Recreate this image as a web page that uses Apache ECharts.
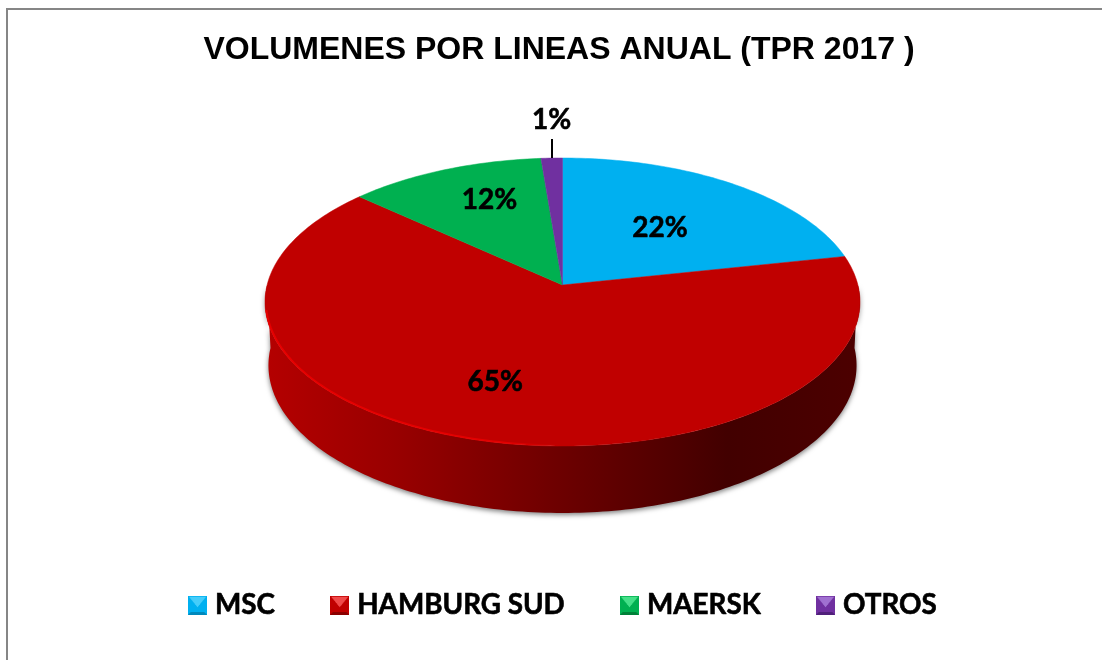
<!DOCTYPE html>
<html><head><meta charset="utf-8">
<style>html,body{margin:0;padding:0;background:#fff}#c{width:1102px;height:660px}</style>
<script src="https://cdn.jsdelivr.net/npm/echarts@6/dist/echarts.min.js"></script>
</head><body><div id="c"></div>
<script>
const titleText = 'VOLUMENES POR LINEAS ANUAL (TPR 2017 )';
const categories = ['MSC', 'HAMBURG SUD', 'MAERSK', 'OTROS'];
const values = [21.7, 65.0, 12.0, 1.3];
const colors = ['#00b0f0', '#c00000', '#00b050', '#7030a0'];
const lightColors = ['#45cdfa', '#f04a4a', '#45e088', '#a070d0'];
const darkColors = ['#0088bb', '#8a0000', '#008038', '#50207a'];

// geometry of the tilted disc (perspective projection of a circle)
const CX = 562.5, APEX_Y = 285, R = 295.4, S = 142, K = 0.118;
const BOTTOM_R = 292, BOTTOM_S = 145.5, BOTTOM_APEX_Y = 348;
const LABEL_F = 0.55;
const labelNudge = [[0, 1], [-22, 17], [-5, -19], [0, 0]];
const total = values.reduce((a, b) => a + b, 0);

function proj(deg, f, r, s, ay) {
  const t = deg * Math.PI / 180, u = f * Math.sin(t), v = -f * Math.cos(t), w = 1 - K * v;
  return [CX + r * u / w, ay + s * v / w];
}
function arc(a0, a1, f, r, s, ay) {
  const n = Math.max(2, Math.ceil(Math.abs(a1 - a0))), pts = [];
  for (let i = 0; i <= n; i++) pts.push(proj(a0 + (a1 - a0) * i / n, f, r, s, ay));
  return pts;
}
function startAngle(i) {
  return values.slice(0, i).reduce((a, b) => a + b, 0) / total * 360;
}
function renderSlice(i) {
  return function () {
    const a0 = startAngle(i), a1 = a0 + values[i] / total * 360, mid = (a0 + a1) / 2;
    const children = [];
    const c0 = Math.max(a0, 90), c1 = Math.min(a1, 270);
    if (c1 > c0) {
      const wall = arc(c0, c1, 1, R, S, APEX_Y).concat(arc(c1, c0, 1, BOTTOM_R, BOTTOM_S, BOTTOM_APEX_Y));
      children.push({
        type: 'polygon', shape: { points: wall },
        style: {
          fill: new echarts.graphic.LinearGradient(CX - 295, 0, CX + 295, 0, [
            { offset: 0, color: '#b40000' }, { offset: 0.22, color: '#980000' },
            { offset: 0.5, color: '#6c0000' }, { offset: 0.78, color: '#420000' },
            { offset: 1, color: '#4c0000' }], true),
          shadowBlur: 5, shadowColor: 'rgba(0,0,0,0.5)', shadowOffsetY: 2
        }
      });
    }
    children.push({
      type: 'polygon',
      shape: { points: [[CX, APEX_Y]].concat(arc(a0, a1, 1, R, S, APEX_Y)) },
      style: { fill: colors[i], stroke: colors[i], lineWidth: 0.5 }
    });
    const h0 = Math.max(a0, 180), h1 = Math.min(a1, 260);
    if (h1 > h0) {
      children.push({
        type: 'polyline', shape: { points: arc(h1, h0, 0.997, R, S, APEX_Y) },
        style: {
          fill: 'none', lineWidth: 2,
          stroke: new echarts.graphic.LinearGradient(CX - 295, 0, CX, 0, [
            { offset: 0, color: 'rgba(235,0,0,0.9)' }, { offset: 0.8, color: 'rgba(235,0,0,0.8)' },
            { offset: 1, color: 'rgba(235,0,0,0)' }], true)
        }
      });
    }
    const text = Math.round(values[i] / total * 100) + '%';
    const labelStyle = { text, font: 'bold 28px Lato', fill: '#000', stroke: '#000', lineWidth: 0.6, align: 'center', verticalAlign: 'middle' };
    if (values[i] / total < 0.05) {
      const top = proj(mid, 1, R, S, APEX_Y), lx = Math.round(top[0]);
      children.push({ type: 'line', shape: { x1: lx, y1: top[1] - 19, x2: lx, y2: top[1] }, style: { stroke: '#000', lineWidth: 2 } });
      children.push({ type: 'text', style: Object.assign({ x: top[0], y: top[1] - 38 }, labelStyle) });
    } else {
      const p = proj(mid, LABEL_F, R, S, APEX_Y);
      children.push({ type: 'text', style: Object.assign({ x: p[0] + labelNudge[i][0], y: p[1] + labelNudge[i][1] }, labelStyle) });
    }
    return { type: 'group', children };
  };
}
function bevelIcon(i) {
  const n = 57, b = 8, c = document.createElement('canvas');
  c.width = c.height = n;
  const g = c.getContext('2d');
  const poly = (col, pts) => { g.fillStyle = col; g.beginPath(); pts.forEach((p, j) => j ? g.lineTo(p[0], p[1]) : g.moveTo(p[0], p[1])); g.closePath(); g.fill(); };
  g.fillStyle = colors[i]; g.fillRect(0, 0, n, n);
  poly(lightColors[i], [[3, 3], [n - 3, 3], [n / 2, n * 0.6]]);
  poly(darkColors[i], [[0, n], [n, n], [n - b, n - b], [b, n - b]]);
  return 'image://' + c.toDataURL();
}
const chart = echarts.init(document.getElementById('c'), null, { renderer: 'canvas' });
chart.setOption({
  animation: false,
  backgroundColor: '#fff',
  title: {
    text: titleText, left: 554, top: 29, textAlign: 'center',
    textStyle: { fontFamily: 'Liberation Sans', fontWeight: 'bold', fontSize: 32, color: '#000' }
  },
  legend: {
    left: 188, top: 591, padding: 0, itemWidth: 19, itemHeight: 19, itemGap: 55, orient: 'horizontal',
    selectedMode: false,
    textStyle: { fontFamily: 'Lato', fontWeight: 'bold', fontSize: 27.8, color: '#000', padding: [0, 0, 0, 3], textBorderColor: '#000', textBorderWidth: 0.6 },
    data: categories.map((name, i) => ({ name, icon: bevelIcon(i) }))
  },
  graphic: [{
    type: 'rect', silent: true, z: -1,
    shape: { x: 7, y: 9, width: 1400, height: 900 },
    style: { fill: 'none', stroke: '#868686', lineWidth: 2 }
  }],
  series: categories.map((name, i) => ({
    type: 'custom', name, coordinateSystem: 'none', silent: true,
    itemStyle: { color: colors[i] },
    data: [values[i]], renderItem: renderSlice(i)
  }))
});
</script></body></html>
